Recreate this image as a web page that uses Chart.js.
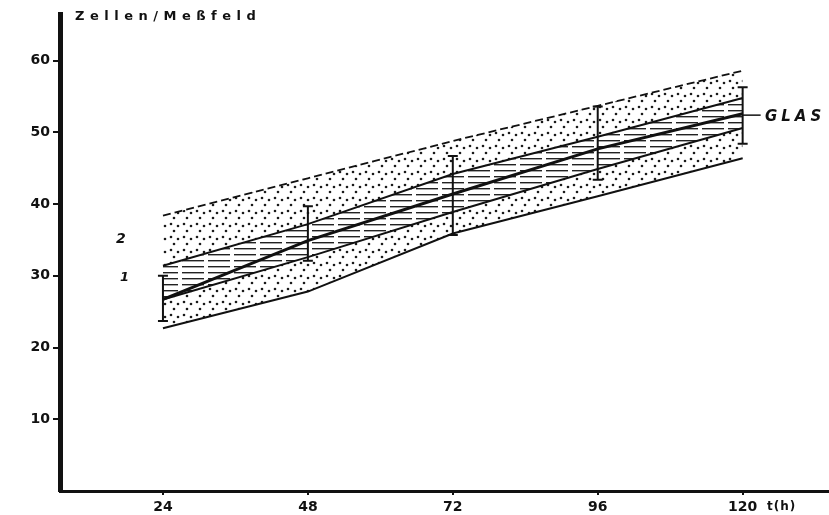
<!DOCTYPE html>
<html>
<head>
<meta charset="utf-8">
<script src="https://cdn.jsdelivr.net/npm/chart.js@4"></script>
<style>
  html, body { margin: 0; padding: 0; background: #fff; }
  #wrap { position: relative; width: 829px; height: 515px; }
  .lbl { position: absolute; font-family: "DejaVu Sans", sans-serif; font-weight: bold; color: #111; white-space: nowrap; }
</style>
</head>
<body>
<div id="wrap">
  <canvas id="chart" width="829" height="515"></canvas>
  <div class="lbl" style="left:75px;top:8px;font-size:13px;letter-spacing:5.5px;">Zellen/Meßfeld</div>
  <div class="lbl" style="left:767px;top:499px;font-size:12px;letter-spacing:1px;">t(h)</div>
  <div class="lbl" style="left:765px;top:107px;font-size:15px;font-style:italic;letter-spacing:4px;">GLAS</div>
  <div class="lbl" style="left:116px;top:230px;font-size:14px;font-style:italic;">2</div>
  <div class="lbl" style="left:120px;top:269px;font-size:13px;font-style:italic;">1</div>
</div>
<script>
const hours = [24, 48, 72, 96, 120];
const xTicks = [24, 48, 72, 96, 120];
const yTicks = [10, 20, 30, 40, 50, 60];

// stippled range
const stippleHigh = [38.4, 43.6, 48.8, 53.7, 58.6];
const stippleLow = [22.7, 27.8, 35.9, 41.1, 46.4];
// hatched band and mean
const hatchHigh = [31.4, 37.2, 44.2, 49.4, 54.8];
const meanLine = [26.7, 34.9, 41.4, 47.7, 52.6];
const hatchLow = [26.7, 32.6, 38.9, 44.9, 50.6];
// error bars
const errHigh = [30.0, 39.7, 46.7, 53.6, 56.3];
const errLow = [23.7, 32.1, 35.7, 43.4, 48.4];
const glasValue = 52.4;

function points(values) {
  return values.map((v, i) => ({ x: hours[i], y: v }));
}

function dotPattern() {
  const c = document.createElement("canvas");
  c.width = 13; c.height = 13;
  const g = c.getContext("2d");
  g.fillStyle = "#fff";
  g.fillRect(0, 0, 13, 13);
  g.fillStyle = "#1a1a1a";
  [[2, 3], [9, 5], [5, 10]].forEach(([x, y]) => {
    g.beginPath(); g.arc(x, y, 1.3, 0, Math.PI * 2); g.fill();
  });
  return g.createPattern(c, "repeat");
}

function hatchPattern() {
  const c = document.createElement("canvas");
  c.width = 26; c.height = 6;
  const g = c.getContext("2d");
  g.fillStyle = "#fff";
  g.fillRect(0, 0, 26, 6);
  g.fillStyle = "#222";
  g.fillRect(0, 2, 22, 1.4);
  return g.createPattern(c, "repeat");
}

const errorBars = {
  id: "errorBars",
  afterDatasetsDraw(chart) {
    const { ctx, scales: { x, y } } = chart;
    ctx.save();
    ctx.strokeStyle = "#111";
    ctx.lineWidth = 2;
    hours.forEach((h, i) => {
      const px = x.getPixelForValue(h);
      const top = y.getPixelForValue(errHigh[i]);
      const bot = y.getPixelForValue(errLow[i]);
      ctx.beginPath();
      ctx.moveTo(px, top); ctx.lineTo(px, bot);
      ctx.moveTo(px - 5, top); ctx.lineTo(px + 5, top);
      ctx.moveTo(px - 5, bot); ctx.lineTo(px + 5, bot);
      ctx.stroke();
    });
    // GLAS pointer
    const gx = x.getPixelForValue(120);
    const gy = y.getPixelForValue(glasValue);
    ctx.lineWidth = 1.5;
    ctx.beginPath();
    ctx.moveTo(gx, gy); ctx.lineTo(gx + 18, gy);
    ctx.stroke();
    ctx.restore();
  }
};

const ctx = document.getElementById("chart").getContext("2d");
new Chart(ctx, {
  type: "line",
  data: {
    datasets: [
      { data: points(meanLine), borderColor: "#111", borderWidth: 3, fill: false },
      { data: points(hatchHigh), borderColor: "#111", borderWidth: 2, fill: { target: 2 }, backgroundColor: hatchPattern() },
      { data: points(hatchLow), borderColor: "#111", borderWidth: 2, fill: false },
      { data: points(stippleHigh), borderColor: "#111", borderWidth: 1.8, borderDash: [8, 4], fill: { target: 4 }, backgroundColor: dotPattern() },
      { data: points(stippleLow), borderColor: "#111", borderWidth: 2, fill: false }
    ]
  },
  options: {
    responsive: false,
    animation: false,
    layout: { padding: { top: 14, right: 0, left: 0, bottom: 0 } },
    elements: { point: { radius: 0 }, line: { tension: 0 } },
    plugins: {
      legend: { display: false },
      tooltip: { enabled: false },
      filler: { drawTime: "beforeDatasetsDraw" }
    },
    scales: {
      x: {
        type: "linear",
        min: 6.95,
        max: 134.3,
        afterBuildTicks: s => { s.ticks = xTicks.map(v => ({ value: v })); },
        afterFit: s => { s.height = 24; },
        border: { display: true, width: 3, color: "#111" },
        grid: { display: true, drawOnChartArea: false, drawTicks: true, tickLength: 4, color: "#111", lineWidth: 2 },
        ticks: { color: "#111", padding: 4, font: { family: "DejaVu Sans", weight: "bold", size: 14 } }
      },
      y: {
        type: "linear",
        min: 0,
        max: 66.5,
        afterBuildTicks: s => { s.ticks = yTicks.map(v => ({ value: v })); },
        afterFit: s => { s.width = 60; },
        border: { display: true, width: 5, color: "#111" },
        grid: { display: true, drawOnChartArea: false, drawTicks: true, tickLength: 7, color: "#111", lineWidth: 2 },
        ticks: { color: "#111", padding: 3, font: { family: "DejaVu Sans", weight: "bold", size: 14 } }
      }
    }
  },
  plugins: [errorBars]
});
</script>
</body>
</html>
